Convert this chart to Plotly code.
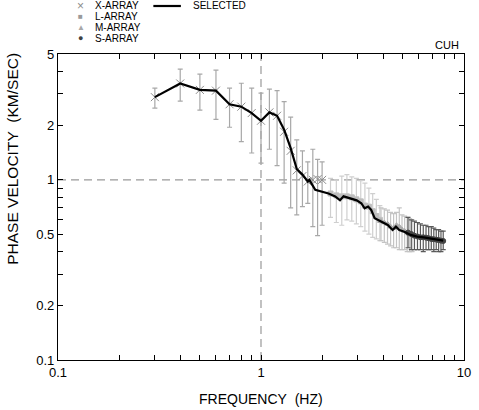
import plotly.graph_objects as go

# ---------------- data ----------------
x_f = [0.3, 0.4, 0.5, 0.6, 0.7, 0.8, 0.9, 1.0, 1.1, 1.2, 1.3, 1.4, 1.5, 1.6, 1.7, 1.8, 1.9, 2.0]
x_v = [2.88, 3.43, 3.16, 3.13, 2.63, 2.55, 2.35, 2.13, 2.37, 2.27, 1.85, 1.45, 1.13, 1.05, 0.98, 1.00, 1.01, 1.00]
x_hi = [3.23, 4.12, 3.87, 4.07, 3.23, 3.44, 3.23, 3.03, 3.19, 3.13, 2.72, 2.23, 1.67, 1.45, 1.26, 1.48, 1.30, 1.26]
x_lo = [2.50, 2.74, 2.44, 2.17, 1.96, 1.63, 1.41, 1.24, 1.48, 1.20, 0.96, 0.70, 0.64, 0.71, 0.74, 0.55, 0.49, 0.56]

l_f = [2.2, 2.35, 2.5, 2.65, 2.8, 2.95, 3.1, 3.25, 3.4, 3.55, 3.7, 3.85]
l_v = [0.84, 0.82, 0.81, 0.81, 0.80, 0.78, 0.76, 0.72, 0.71, 0.67, 0.63, 0.60]
l_hi = [1.02, 1.00, 1.05, 1.07, 1.04, 1.02, 0.99, 0.96, 0.90, 0.84, 0.78, 0.72]
l_lo = [0.62, 0.58, 0.56, 0.60, 0.59, 0.57, 0.55, 0.52, 0.50, 0.48, 0.47, 0.46]

m_f = [3.9, 4.05, 4.2, 4.35, 4.5, 4.65, 4.8, 4.95, 5.1, 5.25, 5.4, 5.55]
m_v = [0.59, 0.58, 0.57, 0.55, 0.54, 0.56, 0.55, 0.53, 0.52, 0.51, 0.50, 0.50]
m_hi = [0.70, 0.69, 0.68, 0.66, 0.65, 0.66, 0.70, 0.64, 0.63, 0.62, 0.61, 0.60]
m_lo = [0.46, 0.45, 0.44, 0.43, 0.42, 0.42, 0.41, 0.41, 0.41, 0.40, 0.40, 0.40]

s_f = [5.3, 5.5, 5.7, 5.9, 6.1, 6.3, 6.5, 6.7, 6.9, 7.1, 7.3, 7.5, 7.7, 7.9]
s_v = [0.51, 0.50, 0.49, 0.485, 0.48, 0.48, 0.478, 0.474, 0.47, 0.468, 0.466, 0.463, 0.46, 0.458]
s_hi = [0.62, 0.60, 0.59, 0.58, 0.57, 0.56, 0.56, 0.55, 0.55, 0.54, 0.53, 0.53, 0.52, 0.52]
s_lo = [0.42, 0.41, 0.41, 0.41, 0.41, 0.40, 0.41, 0.41, 0.41, 0.40, 0.41, 0.40, 0.40, 0.41]

sel_f = [0.3, 0.4, 0.5, 0.6, 0.7, 0.8, 0.9, 1.0, 1.1, 1.2, 1.3, 1.4, 1.5, 1.6, 1.7, 1.73,
         1.85, 2.0, 2.15, 2.32, 2.45, 2.55, 2.74, 2.96, 3.12, 3.24, 3.37, 3.49, 3.63, 3.91,
         4.21, 4.45, 4.62, 4.80, 5.08, 5.46, 5.88, 6.33, 6.82, 7.35, 7.9]
sel_v = [2.88, 3.43, 3.16, 3.13, 2.63, 2.55, 2.35, 2.13, 2.37, 2.27, 1.90, 1.50, 1.15, 1.07, 0.98, 1.00,
         0.88, 0.86, 0.84, 0.81, 0.77, 0.81, 0.79, 0.77, 0.742, 0.696, 0.711, 0.681, 0.613, 0.587,
         0.562, 0.527, 0.550, 0.527, 0.516, 0.495, 0.484, 0.480, 0.474, 0.468, 0.46]

x_tickvals = [0.1, 0.2, 0.3, 0.4, 0.5, 0.6, 0.7, 0.8, 0.9, 1, 2, 3, 4, 5, 6, 7, 8, 9, 10]
x_labels = {0.1: "0.1", 1: "1", 10: "10"}
y_tickvals = [0.1, 0.2, 0.3, 0.4, 0.5, 0.6, 0.7, 0.8, 0.9, 1, 2, 3, 4, 5]
y_labels = {0.1: "0.1", 0.2: "0.2", 0.5: "0.5", 1: "1", 2: "2", 5: "5"}

# ---------------- figure ----------------
FONT = "Liberation Sans, Arial, sans-serif"
W, H = 479, 410
L, R, T, B = 58, 8, 54, 50

def err(v, hi, lo):
    return [h - a for a, h in zip(v, hi)], [a - l for a, l in zip(v, lo)]

fig = go.Figure()

def add_series(f, v, hi, lo, col, mcol, sym, size):
    up, dn = err(v, hi, lo)
    fig.add_trace(go.Scatter(
        x=f, y=v, mode="markers",
        marker=dict(symbol=sym, size=size, color=mcol, line=dict(width=1, color=mcol)),
        error_y=dict(type="data", symmetric=False, array=up, arrayminus=dn,
                     color=col, thickness=1.2, width=2.5),
        showlegend=False, hoverinfo="skip"))

add_series(l_f, l_v, l_hi, l_lo, "#cfcfcf", "#bdbdbd", "square", 5)
add_series(m_f, m_v, m_hi, m_lo, "#c4c4c4", "#aaaaaa", "triangle-up", 5)
add_series(x_f, x_v, x_hi, x_lo, "#a8a8a8", "#8c8c8c", "x-thin", 8)
add_series(s_f, s_v, s_hi, s_lo, "#5a5a5a", "#444444", "circle", 5)

fig.add_trace(go.Scatter(x=sel_f, y=sel_v, mode="lines",
                         line=dict(color="black", width=2.2),
                         showlegend=False, hoverinfo="skip"))

axis_common = dict(showline=True, linecolor="black", linewidth=1.2, mirror="allticks",
                   ticks="inside", ticklen=5, tickwidth=1, tickcolor="black",
                   showgrid=False, zeroline=False,
                   tickfont=dict(family=FONT, size=13, color="black"))

fig.update_xaxes(type="log", range=[-1, 1], tickvals=x_tickvals,
                 ticktext=[x_labels.get(t, "") for t in x_tickvals], **axis_common)
fig.update_yaxes(type="log", range=[-1, 0.69897], tickvals=y_tickvals,
                 ticktext=[y_labels.get(t, "") for t in y_tickvals], **axis_common)

# dashed reference lines
fig.add_shape(type="line", xref="x", yref="paper", x0=1, x1=1, y0=0, y1=1,
              line=dict(color="#999999", width=1.2, dash="8px,5px"), layer="below")
fig.add_shape(type="line", xref="paper", yref="y", x0=0, x1=1, y0=1, y1=1,
              line=dict(color="#999999", width=1.2, dash="8px,5px"), layer="below")

pw, ph = W - L - R, H - T - B
def px(x):
    return (x - L) / pw
def py(y):
    return (H - B - y) / ph

ann = []
def text(x, y, s, size=11, xanchor="left", angle=0, color="black"):
    ann.append(dict(x=px(x), y=py(y), xref="paper", yref="paper", text=s, showarrow=False,
                    xanchor=xanchor, yanchor="middle", textangle=angle,
                    font=dict(family=FONT, size=size, color=color)))

# axis titles
text(265, 399, "FREQUENCY\u00a0 (HZ)", size=14, xanchor="center")
text(11, 159, "PHASE VELOCITY\u00a0 (KM/SEC)", size=15.5, xanchor="center", angle=-90)
text(468, 45, "CUH", size=11, xanchor="right")

# legend
leg_names = ["X-ARRAY", "L-ARRAY", "M-ARRAY", "S-ARRAY"]
leg_syms = ["×", "■", "▲", "●"]
leg_cols = ["#8c8c8c", "#9a9a9a", "#a8a8a8", "#404040"]
leg_sizes = [12, 8, 8, 9]
leg_y = [6, 16.5, 27.5, 38.5]
for nm, sy, c, sz, yy in zip(leg_names, leg_syms, leg_cols, leg_sizes, leg_y):
    text(81, yy, sy, size=sz, xanchor="center", color=c)
    text(94, yy, nm, size=10)
fig.add_shape(type="line", xref="paper", yref="paper", x0=px(155), x1=px(183),
              y0=py(6), y1=py(6), line=dict(color="black", width=2.2))
text(193, 6, "SELECTED", size=10)

fig.update_layout(width=W, height=H, margin=dict(l=L, r=R, t=T, b=B),
                  paper_bgcolor="white", plot_bgcolor="white",
                  annotations=ann, showlegend=False)

fig.write_html("out.html", config={"displayModeBar": False},
               post_script="document.body.style.margin='0';document.body.style.padding='0';"
                           "document.body.style.overflow='hidden';")
